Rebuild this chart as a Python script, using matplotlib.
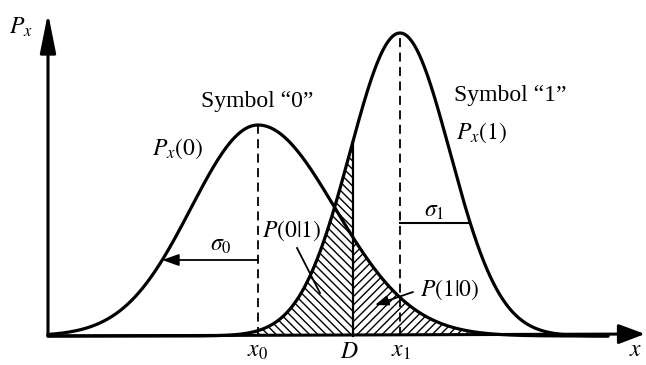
import numpy as np
import matplotlib
matplotlib.use("Agg")
import matplotlib.pyplot as plt
from matplotlib.patches import FancyArrowPatch

plt.rcParams['font.family'] = ['Liberation Serif', 'DejaVu Serif']
plt.rcParams['mathtext.fontset'] = 'stix'
plt.rcParams['hatch.linewidth'] = 1.0

# Two received-signal densities (symbol "0" and symbol "1")
symbols = ['0', '1']
means = [210.0, 352.0]          # x0, x1
sigma_left = [67.0, 50.0]
sigma_right = [77.0, 50.0]
peaks = [211.0, 303.0]
sigma_levels = [76.0, 113.0]    # heights at which the sigma markers are drawn
threshold = 305.0               # decision level D
x_end = 560.0


def density(x, k):
    s = np.where(x < means[k], sigma_left[k], sigma_right[k])
    return peaks[k] * np.exp(-0.5 * ((x - means[k]) / s) ** 2)


def width_at(level, k, side):
    s = sigma_left[k] if side < 0 else sigma_right[k]
    return means[k] + side * s * np.sqrt(2 * np.log(peaks[k] / level))


fig = plt.figure(figsize=(6.46, 3.65), dpi=100)
ax = fig.add_axes([0, 0, 1, 1])
ax.set_xlim(-48, 598)
ax.set_ylim(-29, 336)
ax.axis('off')

x = np.linspace(0, x_end, 1200)

# Hatched error regions
xl = x[x <= threshold]
ax.fill_between(xl, 0, density(xl, 1), facecolor='none', edgecolor='black',
                hatch='\\\\\\\\', linewidth=0)
xr = x[x >= threshold]
ax.fill_between(xr, 0, density(xr, 0), facecolor='none', edgecolor='black',
                hatch='////', linewidth=0)

# Density curves
for k in range(2):
    ax.plot(x, density(x, k), color='black', lw=2.3, solid_capstyle='round')

# Mean markers
for k in range(2):
    ax.plot([means[k], means[k]], [0, peaks[k]], color='black', lw=1.3,
            linestyle=(0, (5, 3)))

# Decision threshold
ax.plot([threshold, threshold], [0, float(density(np.array(threshold), 1))],
        color='black', lw=1.6)

# Axes with arrows
ax.add_patch(FancyArrowPatch((0, 0), (0, 323), arrowstyle='-|>,head_length=1.2,head_width=0.24',
                             mutation_scale=20, lw=2.2, color='black', shrinkA=0, shrinkB=0))
ax.add_patch(FancyArrowPatch((0, 0), (597, 2), arrowstyle='-|>,head_length=0.8,head_width=0.3',
                             mutation_scale=20, lw=2.2, color='black', shrinkA=0, shrinkB=0))

# Sigma markers
x_s0 = width_at(sigma_levels[0], 0, -1)
ax.add_patch(FancyArrowPatch((means[0], sigma_levels[0]), (x_s0, sigma_levels[0]),
                             arrowstyle='-|>,head_length=0.5,head_width=0.18',
                             mutation_scale=20, lw=1.3, color='black', shrinkA=0, shrinkB=0))
x_s1 = width_at(sigma_levels[1], 1, 1)
ax.plot([means[1], x_s1], [sigma_levels[1], sigma_levels[1]], color='black', lw=1.5)

# Pointers to the error probabilities
ax.plot([249, 272], [88, 43], color='black', lw=1.3)
ax.add_patch(FancyArrowPatch((365, 44), (327, 31),
                             arrowstyle='-|>,head_length=0.4,head_width=0.15',
                             mutation_scale=20, lw=1.3, color='black', shrinkA=0, shrinkB=0))

fs = 17
ax.text(-27, 309, r'$P_x$', fontsize=fs, ha='center', va='center')
ax.text(209, 235, 'Symbol \u201c' + symbols[0] + '\u201d', fontsize=fs, ha='center', va='center')
ax.text(462, 241, 'Symbol \u201c' + symbols[1] + '\u201d', fontsize=fs, ha='center', va='center')
ax.text(130, 187, r'$P_x(0)$', fontsize=fs, ha='center', va='center')
ax.text(434, 203, r'$P_x(1)$', fontsize=fs, ha='center', va='center')
ax.text(173, 90, r'$\sigma_0$', fontsize=fs, ha='center', va='center')
ax.text(386, 125, r'$\sigma_1$', fontsize=fs, ha='center', va='center')
ax.text(244, 105, r'$P(0|1)$', fontsize=fs, ha='center', va='center')
ax.text(402, 46, r'$P(1|0)$', fontsize=fs, ha='center', va='center')
ax.text(means[0], -16, r'$x_0$', fontsize=fs, ha='center', va='center')
ax.text(threshold - 4, -16, r'$D$', fontsize=fs, ha='center', va='center')
ax.text(means[1] + 1, -16, r'$x_1$', fontsize=fs, ha='center', va='center')
ax.text(588, -14, r'$x$', fontsize=fs, ha='center', va='center')

fig.savefig('out.png', dpi=100)
